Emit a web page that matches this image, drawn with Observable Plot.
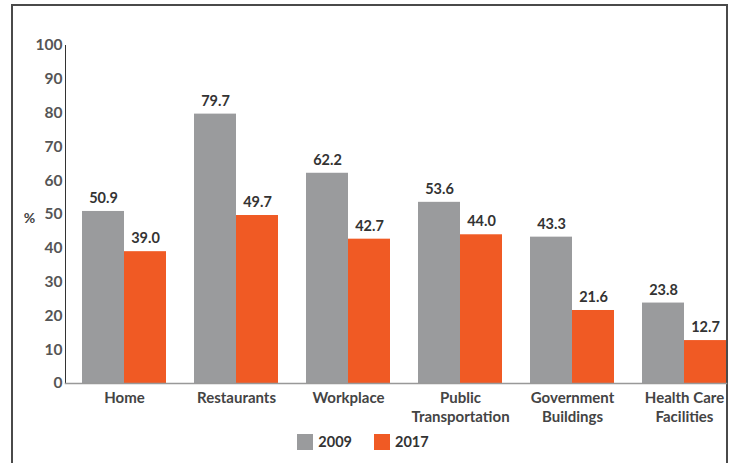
<!DOCTYPE html>
<html>
<head>
<meta charset="utf-8">
<script src="https://cdn.jsdelivr.net/npm/d3@7"></script>
<script src="https://cdn.jsdelivr.net/npm/@observablehq/plot@0.6"></script>
<style>
  html, body { margin: 0; padding: 0; background: #fff; overflow: hidden; width: 732px; height: 463px; }
  #frame { position: absolute; left: 11px; top: 4px; width: 717px; height: 520px; border: 2px solid #4a4a4a; box-sizing: border-box; pointer-events: none; }
  #chart { position: absolute; left: 0; top: 0; }
  #legend { position: absolute; left: -3px; top: 433px; width: 732px; display: flex; justify-content: center; align-items: center; font-family: Lato, sans-serif; font-weight: bold; font-size: 14.5px; color: #333; }
  #legend .item { display: flex; align-items: center; margin: 0 11px; }
  #legend .sw { width: 16px; height: 16px; margin-right: 5px; }
</style>
</head>
<body>
<div id="frame"></div>
<div id="chart"></div>
<div id="legend"></div>
<script>
const categories = ["Home", "Restaurants", "Workplace", "Public\nTransportation", "Government\nBuildings", "Health Care\nFacilities"];
const years = ["2009", "2017"];
const values2009 = [50.9, 79.7, 62.2, 53.6, 43.3, 23.8];
const values2017 = [39.0, 49.7, 42.7, 44.0, 21.6, 12.7];
const yTicks = [0, 10, 20, 30, 40, 50, 60, 70, 80, 90, 100];
const colors = ["#9a9b9d", "#f05a24"];
const yLabel = "%";

const data = [];
categories.forEach((c, i) => {
  data.push({category: c, year: years[0], value: values2009[i]});
  data.push({category: c, year: years[1], value: values2017[i]});
});

const chart = Plot.plot({
  width: 732,
  height: 425,
  marginLeft: 65,
  marginRight: 6,
  marginTop: 45,
  marginBottom: 42,
  style: {fontFamily: "Lato, sans-serif", background: "transparent", overflow: "visible"},
  fx: {domain: categories, paddingInner: 0.0982, paddingOuter: 0, round: false, label: null},
  x: {domain: years, paddingInner: 0, paddingOuter: 0.2024, align: 1, round: false, axis: null},
  y: {domain: [0, 100], label: null, axis: null},
  color: {domain: years, range: colors},
  marks: [
    Plot.barY(data, {fx: "category", x: "year", y: "value", fill: "year"}),
    Plot.text(data, {fx: "category", x: "year", y: "value", text: d => d.value.toFixed(1), dy: -13, fontSize: 14.5, fontWeight: "bold", fill: "#333"}),
    Plot.axisY({ticks: yTicks, tickSize: 0, tickPadding: 3, fontSize: 15.5, fontWeight: "bold", fill: "#555", label: null}),
    Plot.axisFx({anchor: "bottom", tickSize: 0, tickPadding: 6, dx: 8.5, fontSize: 15, fontWeight: "bold", fill: "#444", lineHeight: 1.27, label: null}),
    Plot.frame({anchor: "left", facet: "super", stroke: "#333"}),
    Plot.frame({anchor: "bottom", facet: "super", stroke: "#999", strokeWidth: 1.5}),
    Plot.text([yLabel], {text: d => d, frameAnchor: "left", textAnchor: "middle", dx: -36, dy: 4, facet: "super", fontSize: 14, fontWeight: "bold", fill: "#444"})
  ]
});
document.getElementById("chart").appendChild(chart);

const legend = document.getElementById("legend");
years.forEach((y, i) => {
  const item = document.createElement("div");
  item.className = "item";
  const sw = document.createElement("span");
  sw.className = "sw";
  sw.style.background = colors[i];
  const t = document.createElement("span");
  t.textContent = y;
  item.appendChild(sw);
  item.appendChild(t);
  legend.appendChild(item);
});
</script>
</body>
</html>
